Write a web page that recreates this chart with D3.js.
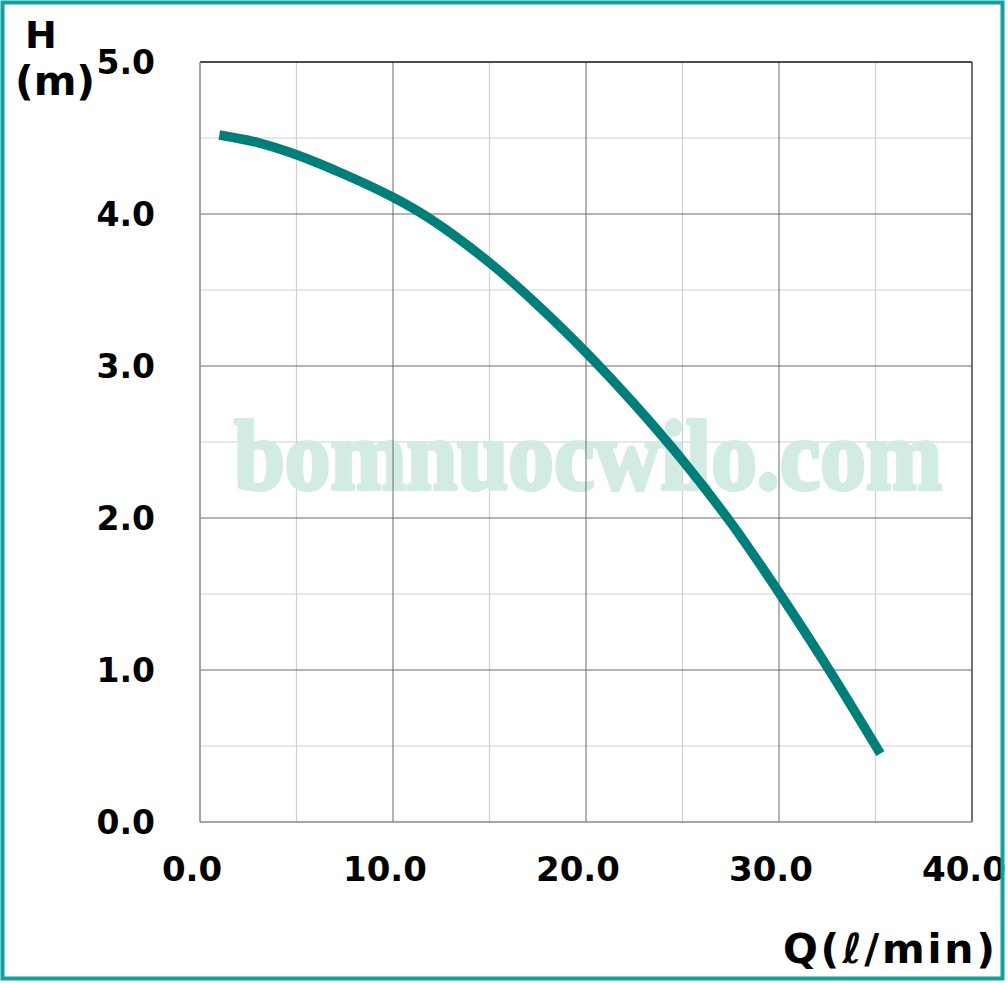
<!DOCTYPE html>
<html><head><meta charset="utf-8">
<script src="https://cdn.jsdelivr.net/npm/d3@7"></script>
<style>html,body{margin:0;padding:0;background:#fff;}svg{display:block;}</style>
</head><body>
<script>
const flowQ = [1.0, 3.0, 5.0, 7.5, 10.0, 11.9, 15.0, 17.5, 20.0, 22.5, 25.0, 27.5, 30.05, 32.6, 35.25];
const headH = [4.52, 4.47, 4.39, 4.26, 4.11, 3.97, 3.68, 3.40, 3.09, 2.75, 2.38, 1.97, 1.50, 1.00, 0.45];
const xTicks = [0, 10, 20, 30, 40];
const yTicks = [0, 1, 2, 3, 4, 5];
const xMinor = [5, 15, 25, 35];
const yMinor = [0.5, 1.5, 2.5, 3.5, 4.5];
const xLabel = "Q(ℓ/min)";
const yLabel1 = "H";
const yLabel2 = "(m)";
const watermark = "bomnuocwilo.com";

const W = 1008, H = 983;
const svg = d3.select("body").append("svg").attr("width", W).attr("height", H);
svg.append("rect").attr("width", W).attr("height", H).attr("fill", "#fff");

const x = d3.scaleLinear().domain([0, 40]).range([200, 972]);
const y = d3.scaleLinear().domain([0, 5]).range([822, 62]);

// minor grid
svg.append("g").selectAll("line").data(xMinor).join("line")
  .attr("x1", d => x(d)).attr("x2", d => x(d)).attr("y1", y(0)).attr("y2", y(5))
  .attr("stroke", "#d0d0d0").attr("stroke-width", 1.2);
svg.append("g").selectAll("line").data(yMinor).join("line")
  .attr("x1", x(0)).attr("x2", x(40)).attr("y1", d => y(d)).attr("y2", d => y(d))
  .attr("stroke", "#d0d0d0").attr("stroke-width", 1.2);

// watermark
svg.append("text").attr("x", 234).attr("y", 489)
  .attr("textLength", 708).attr("lengthAdjust", "spacingAndGlyphs")
  .attr("font-family", "'Liberation Serif', 'DejaVu Serif', serif").attr("font-weight", "bold")
  .attr("font-size", 100).attr("fill", "#d3ece3")
  .attr("stroke", "#d3ece3").attr("stroke-width", 4).attr("stroke-linejoin", "round")
  .text(watermark);

// major grid
svg.append("g").selectAll("line").data(xTicks.slice(1, -1)).join("line")
  .attr("x1", d => x(d)).attr("x2", d => x(d)).attr("y1", y(0)).attr("y2", y(5))
  .attr("stroke", "#6a6a6a").attr("stroke-width", 1);
svg.append("g").selectAll("line").data(yTicks.slice(1, -1)).join("line")
  .attr("x1", x(0)).attr("x2", x(40)).attr("y1", d => y(d)).attr("y2", d => y(d))
  .attr("stroke", "#6a6a6a").attr("stroke-width", 1);

// frame
svg.append("line").attr("x1", x(0)).attr("x2", x(40)).attr("y1", y(5)).attr("y2", y(5)).attr("stroke", "#111").attr("stroke-width", 1.5);
svg.append("line").attr("x1", x(40)).attr("x2", x(40)).attr("y1", y(5)).attr("y2", y(0)).attr("stroke", "#444").attr("stroke-width", 1.5);
svg.append("line").attr("x1", x(0)).attr("x2", x(0)).attr("y1", y(5)).attr("y2", y(0)).attr("stroke", "#888").attr("stroke-width", 1.5);
svg.append("line").attr("x1", x(0)).attr("x2", x(40)).attr("y1", y(0)).attr("y2", y(0)).attr("stroke", "#888").attr("stroke-width", 1.5);

// curve
const pts = flowQ.map((q, i) => [q, headH[i]]);
svg.append("path").datum(pts)
  .attr("d", d3.line().x(d => x(d[0])).y(d => y(d[1])).curve(d3.curveCatmullRom.alpha(0.5)))
  .attr("fill", "none").attr("stroke", "#007f7a").attr("stroke-width", 9.5).attr("stroke-linecap", "butt");

const font = "'DejaVu Sans', Verdana, sans-serif";
// tick labels
svg.append("g").selectAll("text").data(yTicks).join("text")
  .attr("x", 155).attr("y", d => y(d)).attr("dy", "0.36em")
  .attr("text-anchor", "end").attr("font-family", font).attr("font-weight", "bold")
  .attr("font-size", 33).attr("fill", "#000").text(d => d.toFixed(1));
svg.append("g").selectAll("text").data(xTicks).join("text")
  .attr("x", d => x(d) - 8).attr("y", 881)
  .attr("text-anchor", "middle").attr("font-family", font).attr("font-weight", "bold")
  .attr("font-size", 34).attr("fill", "#000").text(d => d.toFixed(1));

// axis titles
svg.append("text").attr("x", 41).attr("y", 48).attr("text-anchor", "middle")
  .attr("font-family", font).attr("font-weight", "bold").attr("font-size", 38).text(yLabel1);
svg.append("text").attr("x", 55).attr("y", 95).attr("text-anchor", "middle")
  .attr("font-family", font).attr("font-weight", "bold").attr("font-size", 41).text(yLabel2);
svg.append("text").attr("x", 995).attr("y", 963).attr("text-anchor", "end")
  .attr("textLength", 212)
  .attr("font-family", font).attr("font-weight", "bold").attr("font-size", 41).text(xLabel);

// outer border
svg.append("rect").attr("x", 2.5).attr("y", 2.5).attr("width", 1000).attr("height", 976)
  .attr("fill", "none").attr("stroke", "#13a099").attr("stroke-width", 4);
</script>
</body></html>
